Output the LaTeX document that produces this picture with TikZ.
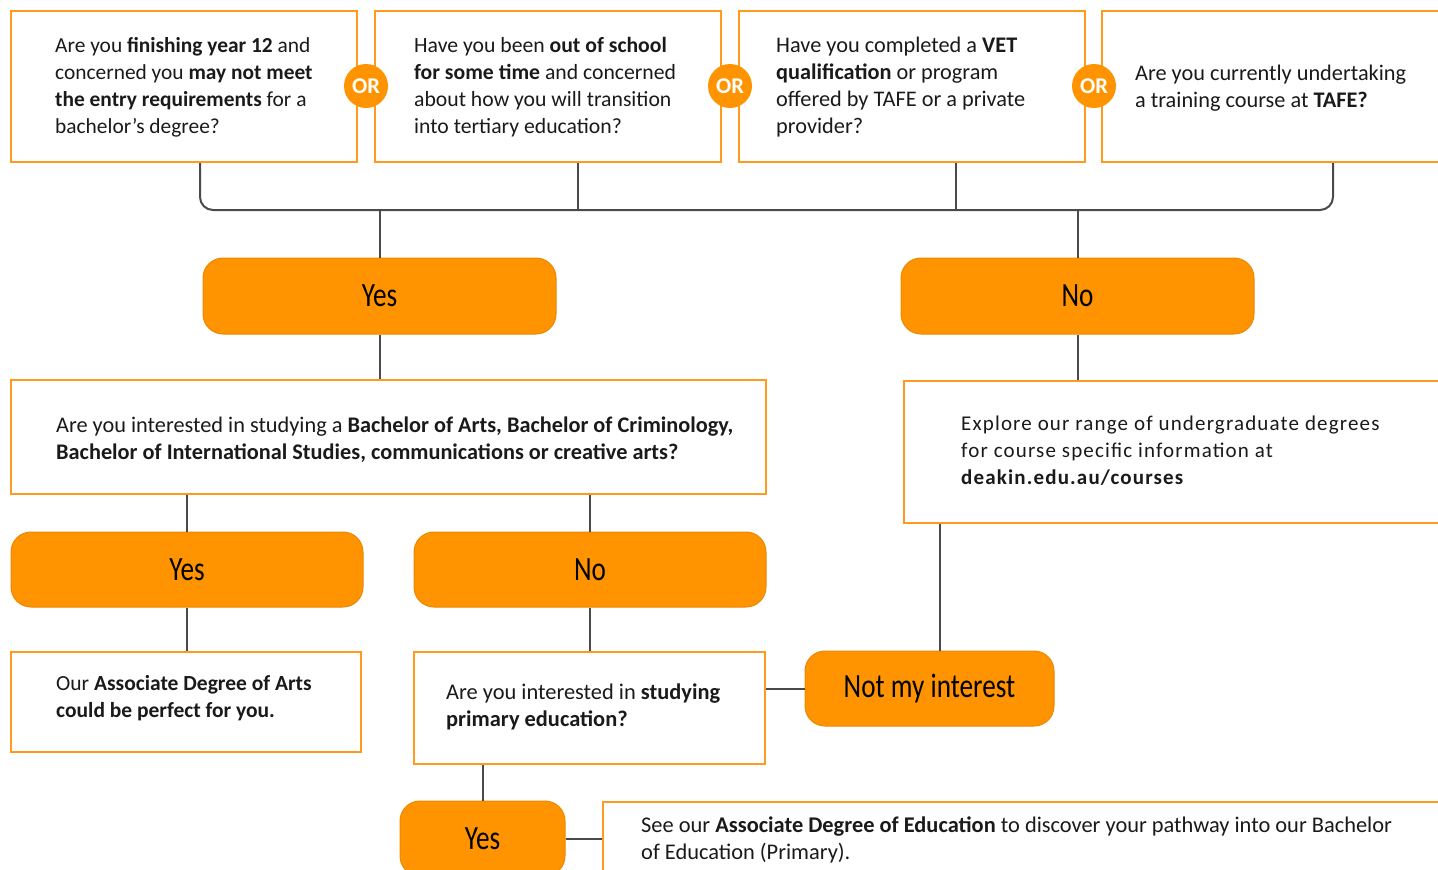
\documentclass[tikz,border=0pt]{standalone}
\usepackage{fontspec}
\setmainfont{Carlito}
\newfontfamily\btnfont[FakeStretch=0.8]{Carlito}
\usetikzlibrary{positioning}
\definecolor{deakinorange}{HTML}{FF9400}
\definecolor{boxorange}{HTML}{FF9A1F}
\definecolor{linegray}{HTML}{4A4A4A}
\definecolor{textblack}{HTML}{1A1A1A}
\newcommand{\fs}[1]{\fontsize{#1}{27}\selectfont}
\tikzset{
	block/.style={
		rectangle,
		draw=boxorange,
		line width=2pt,
		fill=white,
		inner sep=0pt
	},
	txt/.style={
		anchor=west,
		align=left,
		inner sep=0pt,
		text=textblack,
		font=\fs{21}
	},
	button/.style={
		rectangle,
		rounded corners=20pt,
		draw=deakinorange!92!black,
		line width=1pt,
		fill=deakinorange,
		minimum height=76pt,
		text=black,
		font=\btnfont\fontsize{34}{34}\selectfont
	},
	orbadge/.style={
		circle,
		fill=deakinorange,
		text=white,
		minimum size=44pt,
		inner sep=0pt,
		font=\bfseries\fontsize{22.5}{22.5}\selectfont
	},
	link/.style={
		draw=linegray,
		line width=2pt
	},
}

\begin{document}
\begin{tikzpicture}[x=1pt,y=-1pt]
	\useasboundingbox (0,0) rectangle (1438,870);
	\clip (0,0) rectangle (1438,870);
	% first row of questions
	\node[block,minimum width=346,minimum height=151] (q1) at (184,86.5) {};
	\node[block,minimum width=346,minimum height=151] (q2) at (548,86.5) {};
	\node[block,minimum width=346,minimum height=151] (q3) at (912,86.5) {};
	\node[block,minimum width=400,minimum height=151] (q4) at (1302,86.5) {};
	\node[txt,font=\fs{21.4}] (t1) at (55,87) {Are you \textbf{finishing year 12} and\\concerned you \textbf{may not meet}\\\textbf{the entry requirements} for a\\bachelor’s degree?};
	\node[txt,font=\fs{21.7}] (t2) at (414,87) {Have you been \textbf{out of school}\\\textbf{for some time} and concerned\\about how you will transition\\into tertiary education?};
	\node[txt,font=\fs{22.3}] (t3) at (776,87) {Have you completed a \textbf{VET}\\\textbf{qualification} or program\\offered by TAFE or a private\\provider?};
	\node[txt,font=\fs{22.3}] (t4) at (1135,88) {Are you currently undertaking\\a training course at \textbf{TAFE?}};
	\node[orbadge] (or1) at (366,86) {OR};
	\node[orbadge] (or2) at (730,86) {OR};
	\node[orbadge] (or3) at (1094,86) {OR};

	\coordinate (barL) at (200,210);
	\coordinate (barR) at (1333,210);
	\coordinate (j2) at (578,210);
	\coordinate (j3) at (956,210);
	\draw[link,rounded corners=13pt] (q1.south -| barL) -- (barL) -- (barR) -- (q4.south -| barR);
	\draw[link] (q2.south -| j2) -- (j2);
	\draw[link] (q3.south -| j3) -- (j3);

	\node[button,minimum width=353] (yes1) at (379.5,296) {Yes};
	\node[button,minimum width=353] (no1) at (1077.5,296) {No};
	\draw[link] (yes1.north) -- (yes1.north |- barL);
	\draw[link] (no1.north) -- (no1.north |- barR);

	% second level
	\node[block,minimum width=755,minimum height=114] (q5) at (388.5,437) {};
	\node[txt,font=\fs{22.3}] (t5) at (56,440) {Are you interested in studying a \textbf{Bachelor of Arts, Bachelor of Criminology,}\\\textbf{Bachelor of International Studies, communications or creative arts?}};
	\node[block,minimum width=600,minimum height=142] (explore) at (1204,452) {};
	\node[txt,font=\fs{21}\addfontfeatures{LetterSpace=5.5}] (t6) at (961,451) {Explore our range of undergraduate degrees\\for course specific information at\\\textbf{deakin.edu.au/courses}};
	\draw[link] (yes1.south) -- (yes1.south |- q5.north);
	\draw[link] (no1.south) -- (no1.south |- explore.north);

	\node[button,minimum width=352,minimum height=75] (yes2) at (187,569.5) {Yes};
	\node[button,minimum width=352,minimum height=75] (no2) at (590,569.5) {No};
	\draw[link] (yes2.north) -- (yes2.north |- q5.south);
	\draw[link] (no2.north) -- (no2.north |- q5.south);

	\node[block,minimum width=350,minimum height=100] (arts) at (186,702) {};
	\node[txt,font=\fs{21.5}] (t7) at (56,698) {Our \textbf{Associate Degree of Arts}\\\textbf{could be perfect for you.}};
	\node[block,minimum width=351,minimum height=112] (primary) at (589.5,708) {};
	\node[txt,font=\fs{22.4}] (t8) at (446,707) {Are you interested in \textbf{studying}\\\textbf{primary education?}};
	\draw[link] (yes2.south) -- (yes2.south |- arts.north);
	\draw[link] (no2.south) -- (no2.south |- primary.north);

	\node[button,minimum width=249,minimum height=75] (notmy) at (929.5,688.5) {Not my interest};
	\coordinate (j4) at (940,651);
	\draw[link] (notmy.west) -- (notmy.west -| primary.east);
	\draw[link] (j4) -- (j4 |- explore.south);

	% last row
	\node[button,minimum width=165,minimum height=75] (yes3) at (482.5,838.5) {Yes};
	\node[block,minimum width=900,minimum height=100] (edu) at (1053,852) {};
	\node[txt,font=\fs{22.4}] (t9) at (641,840) {See our \textbf{Associate Degree of Education} to discover your pathway into our Bachelor\\of Education (Primary).};
	\draw[link] (yes3.north) -- (yes3.north |- primary.south);
	\draw[link] (yes3.east) -- (yes3.east -| edu.west);
\end{tikzpicture}
\end{document}
